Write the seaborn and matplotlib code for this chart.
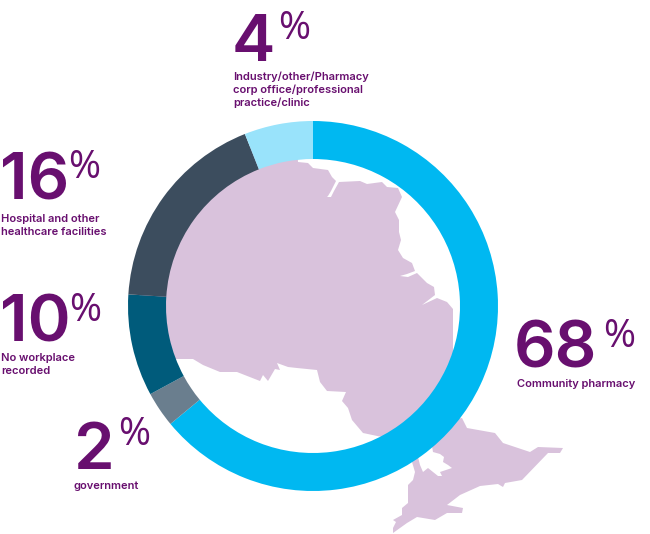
import matplotlib
matplotlib.use("Agg")
import matplotlib.pyplot as plt
from matplotlib.patches import Polygon
import seaborn as sns

# Arc shares as drawn, clockwise from 12 o'clock, and the printed labels
categories = ["Community pharmacy", "government", "No workplace\nrecorded",
              "Hospital and other\nhealthcare facilities",
              "Industry/other/Pharmacy\ncorp office/professional\npractice/clinic"]
arc_shares = [64.0, 3.1, 8.9, 18.0, 6.0]
printed = ["68", "2", "10", "16", "4"]
ring_colors = ["#00b8f1", "#6a7e8e", "#005b7b", "#3c4d5e", "#99e3fb"]

north_outline = [(230,150),(297,140),(298,162),(308,163),(313,168),(328,170),(332,177),(336,181),
    (331,191),(328,196),(327,197),(331,197),(334,191),(339,182),(360,181),(367,184),(382,182),(387,187),
    (398,188),(402,197),(395,212),(399,220),(399,232),(401,240),(398,250),(403,258),(412,263),
    (415,271),(407,274),(400,276),(408,277),(417,273),(427,283),(434,287),(435,295),(422,305),(437,298),
    (447,302),(453,309),(453,350),(470,400),(400,450),(382,437),(363,433),(352,420),(348,408),
    (342,401),(346,392),(327,391),(320,382),(317,370),(297,368),(288,367),(277,363),(280,370),
    (275,369),(268,381),(263,375),(260,381),(237,372),(220,372),(203,365),(193,359),(177,359),
    (150,359),(140,300),(160,220)]
south_outline = [(450,420),(462,418),(467,428),(495,433),(503,443),(518,448),(530,452),(538,447),
    (563,448),(560,453),(548,453),(522,480),(505,483),(503,487),(498,484),(480,486),(460,495),
    (447,505),(463,508),(462,513),(447,513),(435,520),(417,517),(407,523),(393,533),(393,528),
    (396,522),(393,520),(402,515),(402,508),(408,503),(408,485),(413,480),(415,472),(412,462),
    (412,458),(418,457),(420,465),(423,472),(428,468),(438,476),(442,476),(440,472),(452,468),
    (448,465),(443,462),(444,457),(440,454),(433,452),(432,446)]

W, H = 650, 534
sns.set_theme(style="white")
plt.rcParams["font.family"] = ["Inter", "DejaVu Sans"]
PURPLE = "#680f6f"

fig = plt.figure(figsize=(W / 100, H / 100), dpi=100, facecolor="white")
ax = fig.add_axes([0, 0, 1, 1])

flip = lambda pts: [(x, H - y) for x, y in pts]
for outline in (north_outline, south_outline):
    ax.add_patch(Polygon(flip(outline), closed=True, facecolor="#d9c2dc", edgecolor="none", zorder=1))

ax.pie(arc_shares, colors=sns.color_palette(ring_colors), startangle=90, counterclock=False,
       center=(313, H - 306), radius=185, frame=True,
       wedgeprops=dict(width=38, linewidth=0, zorder=2))
ax.set_xlim(0, W)
ax.set_ylim(0, H)
ax.set_aspect("equal")
ax.axis("off")

# per label: number x, number baseline, % x, % baseline, label x, first label baseline
layout = {
    "68": (514, 367, 603, 347, 517, 387),
    "2": (74, 469, 118, 445, 74, 489),
    "10": (0, 341, 69, 321, 1, 361),
    "16": (0, 200, 68, 178, 1, 222),
    "4": (232, 61, 278, 39, 233, 80),
}
for num, cat in zip(printed, categories):
    nx, ny, px, py, lx, ly = layout[num]
    ax.text(nx, H - ny, num, fontsize=47, fontweight="semibold", color=PURPLE, va="baseline", ha="left", zorder=3)
    ax.text(px, H - py, "%", fontsize=28, fontweight="medium", family=["Open Sans", "DejaVu Sans"],
            color=PURPLE, va="baseline", ha="left", zorder=3)
    for i, line in enumerate(cat.split("\n")):
        ax.text(lx, H - (ly + i * 13), line, fontsize=8.0, fontweight="semibold", color=PURPLE,
                va="baseline", ha="left", zorder=3)

fig.savefig("out.png", dpi=100, facecolor="white")
